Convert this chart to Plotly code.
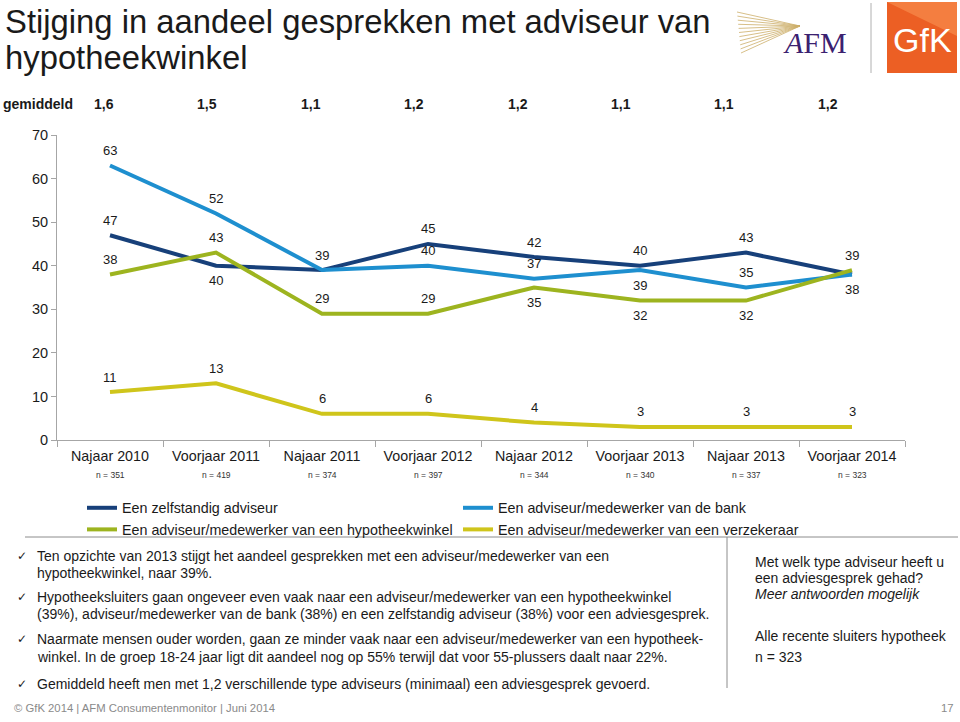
import plotly.graph_objects as go

# ---------------- data ----------------
categories = ["Najaar 2010", "Voorjaar 2011", "Najaar 2011", "Voorjaar 2012",
              "Najaar 2012", "Voorjaar 2013", "Najaar 2013", "Voorjaar 2014"]
n_values = [351, 419, 374, 397, 344, 340, 337, 323]
gemiddeld = ["1,6", "1,5", "1,1", "1,2", "1,2", "1,1", "1,1", "1,2"]

zelfstandig = [47, 40, 39, 45, 42, 40, 43, 38]
bank = [63, 52, 39, 40, 37, 39, 35, 38]
hypotheekwinkel = [38, 43, 29, 29, 35, 32, 32, 39]
verzekeraar = [11, 13, 6, 6, 4, 3, 3, 3]

series_names = ["Een zelfstandig adviseur",
                "Een adviseur/medewerker van de bank",
                "Een adviseur/medewerker van een hypotheekwinkel",
                "Een adviseur/medewerker van een verzekeraar"]

# label placement per point: "a" above, "b" below, "" none
pos_zelfstandig = ["a", "b", "a", "a", "a", "a", "a", "b"]
pos_bank = ["a", "a", "", "a", "a", "b", "a", ""]
pos_hypotheek = ["a", "a", "a", "a", "b", "b", "b", "a"]
pos_verzekeraar = ["a"] * 8

colors = ["#17407A", "#1E8FCF", "#9DB41F", "#CFC51B"]

# ---------------- geometry helpers ----------------
W, H = 960, 722
L, R, T, B = 57, 905, 135, 440
FONT = "Liberation Sans, Arial, sans-serif"


def px(x):
    return (x - L) / (R - L)


def py(y):
    return (B - y) / (B - T)


def note(x, y, text, size, color="#1a1a1a", xanchor="left", family=FONT):
    return dict(x=px(x), y=py(y), xref="paper", yref="paper", xanchor=xanchor,
                yanchor="middle", text=text, showarrow=False,
                font=dict(family=family, size=size, color=color))


fig = go.Figure()
all_series = [zelfstandig, bank, hypotheekwinkel, verzekeraar]
all_pos = [pos_zelfstandig, pos_bank, pos_hypotheek, pos_verzekeraar]
for name, vals, col in zip(series_names, all_series, colors):
    fig.add_trace(go.Scatter(x=categories, y=vals, name=name, mode="lines",
                             line=dict(color=col, width=4), hoverinfo="skip"))

annotations = []
# data labels
for vals, poss in zip(all_series, all_pos):
    for c, v, p in zip(categories, vals, poss):
        if not p:
            continue
        annotations.append(dict(x=c, y=v, xref="x", yref="y", text=str(v),
                                xanchor="center", yanchor="middle",
                                showarrow=False, yshift=15 if p == "a" else -15,
                                font=dict(family=FONT, size=13, color="#1a1a1a")))
# n = labels
for i, n in enumerate(n_values):
    annotations.append(dict(x=categories[i], y=py(475), xref="x", yref="paper",
                            xanchor="center", yanchor="middle",
                            text=f"n = {n}", showarrow=False,
                            font=dict(family=FONT, size=8.5, color="#333")))
# gemiddeld row
annotations.append(note(1, 104, "<b>gemiddeld</b>", 14))
for i, g in enumerate(gemiddeld):
    annotations.append(note(104 + i * 103.4, 104, f"<b>{g}</b>", 14, xanchor="center"))
# title
annotations.append(note(3, 21, "Stijging in aandeel gesprekken met adviseur van", 32.8))
annotations.append(note(3, 57, "hypotheekwinkel", 32.8))
# bullets
bullet_lines = [
    (True, "Ten opzichte van 2013 stijgt het aandeel gesprekken met een adviseur/medewerker van een", 556),
    (False, "hypotheekwinkel, naar 39%.", 573),
    (True, "Hypotheeksluiters gaan ongeveer even vaak naar een adviseur/medewerker van een hypotheekwinkel", 597),
    (False, "(39%), adviseur/medewerker van de bank (38%) en een zelfstandig adviseur (38%) voor een adviesgesprek.", 614),
    (True, "Naarmate mensen ouder worden, gaan ze minder vaak naar een adviseur/medewerker van een hypotheek-", 639),
    (False, "winkel. In de groep 18-24 jaar ligt dit aandeel nog op 55% terwijl dat voor 55-plussers daalt naar 22%.", 657),
    (True, "Gemiddeld heeft men met 1,2 verschillende type adviseurs (minimaal) een adviesgesprek gevoerd.", 684),
]
for chk, txt, yy in bullet_lines:
    if chk:
        annotations.append(note(15, yy, "✓", 12, family="DejaVu Sans"))
    annotations.append(note(35, yy, txt, 14))
# right side text
for txt, yy in [("Met welk type adviseur heeft u", 562), ("een adviesgesprek gehad?", 578),
                ("<i>Meer antwoorden mogelijk</i>", 594),
                ("Alle recente sluiters hypotheek", 636), ("n = 323", 657)]:
    annotations.append(note(753, yy, txt, 14))
# footer
annotations.append(note(12, 708, "© GfK 2014 | AFM Consumentenmonitor | Juni 2014", 11.3, color="#8a8a8a"))
annotations.append(note(956, 708, "17", 11.3, color="#8a8a8a", xanchor="right"))
# logos text
annotations.append(note(815, 43, "<i>A</i>FM", 30, color="#3B2170", xanchor="center",
                        family="Liberation Serif, serif"))
annotations.append(note(922, 40, "GfK", 34, color="white", xanchor="center"))

shapes = []
# separator lines
shapes.append(dict(type="line", xref="paper", yref="paper", x0=px(25), x1=px(958),
                   y0=py(537), y1=py(537), line=dict(color="#8c8c8c", width=1)))
shapes.append(dict(type="line", xref="paper", yref="paper", x0=px(727), x1=px(727),
                   y0=py(537), y1=py(688), line=dict(color="#8c8c8c", width=1)))
# logo decorations
shapes.append(dict(type="line", xref="paper", yref="paper", x0=px(871), x1=px(871),
                   y0=py(3), y1=py(73), line=dict(color="#b0b0b0", width=1)))
shapes.append(dict(type="rect", xref="paper", yref="paper", x0=px(887), x1=px(957),
                   y0=py(2), y1=py(73), line=dict(width=0), fillcolor="#EC5F24", layer="below"))
shapes.append(dict(type="path", xref="paper", yref="paper", layer="below",
                   path=f"M {px(887)},{py(2)} L {px(957)},{py(2)} L {px(957)},{py(36)} Z",
                   line=dict(width=0), fillcolor="rgba(255,165,100,0.45)"))
for k in range(11):
    y0 = 12 + k * 4.1
    shapes.append(dict(type="line", xref="paper", yref="paper", x0=px(737 + k * 0.4), x1=px(800),
                       y0=py(y0), y1=py(26), line=dict(color="#CDAE6A", width=0.8)))

fig.update_layout(
    width=W, height=H,
    margin=dict(l=L, r=W - R, t=T, b=H - B, autoexpand=False),
    paper_bgcolor="white", plot_bgcolor="white",
    font=dict(family=FONT, color="#1a1a1a"),
    showlegend=True,
    legend=dict(orientation="h", x=px(82), y=py(492), xref="paper", yref="paper",
                xanchor="left", yanchor="top", entrywidth=331, entrywidthmode="pixels",
                font=dict(family=FONT, size=14.3, color="#1a1a1a"),
                itemwidth=30, tracegroupgap=0, bgcolor="rgba(0,0,0,0)"),
    annotations=annotations,
    shapes=shapes,
    xaxis=dict(type="category", range=[-0.5, 7.5], showline=True, linecolor="#A6A6A6",
               linewidth=1, ticks="outside", tickson="boundaries", ticklen=6,
               tickcolor="#A6A6A6", showgrid=False, zeroline=False, ticklabelstandoff=3,
               tickfont=dict(family=FONT, size=14.3, color="#1a1a1a")),
    yaxis=dict(range=[0, 70], dtick=10, showline=True, linecolor="#A6A6A6", linewidth=1,
               ticks="outside", ticklen=5, tickcolor="#A6A6A6", showgrid=False,
               zeroline=False, tickfont=dict(family=FONT, size=14.5, color="#1a1a1a")),
)

fig.write_html("out.html", config={"displayModeBar": False},
               post_script="document.body.style.margin='0px';")
